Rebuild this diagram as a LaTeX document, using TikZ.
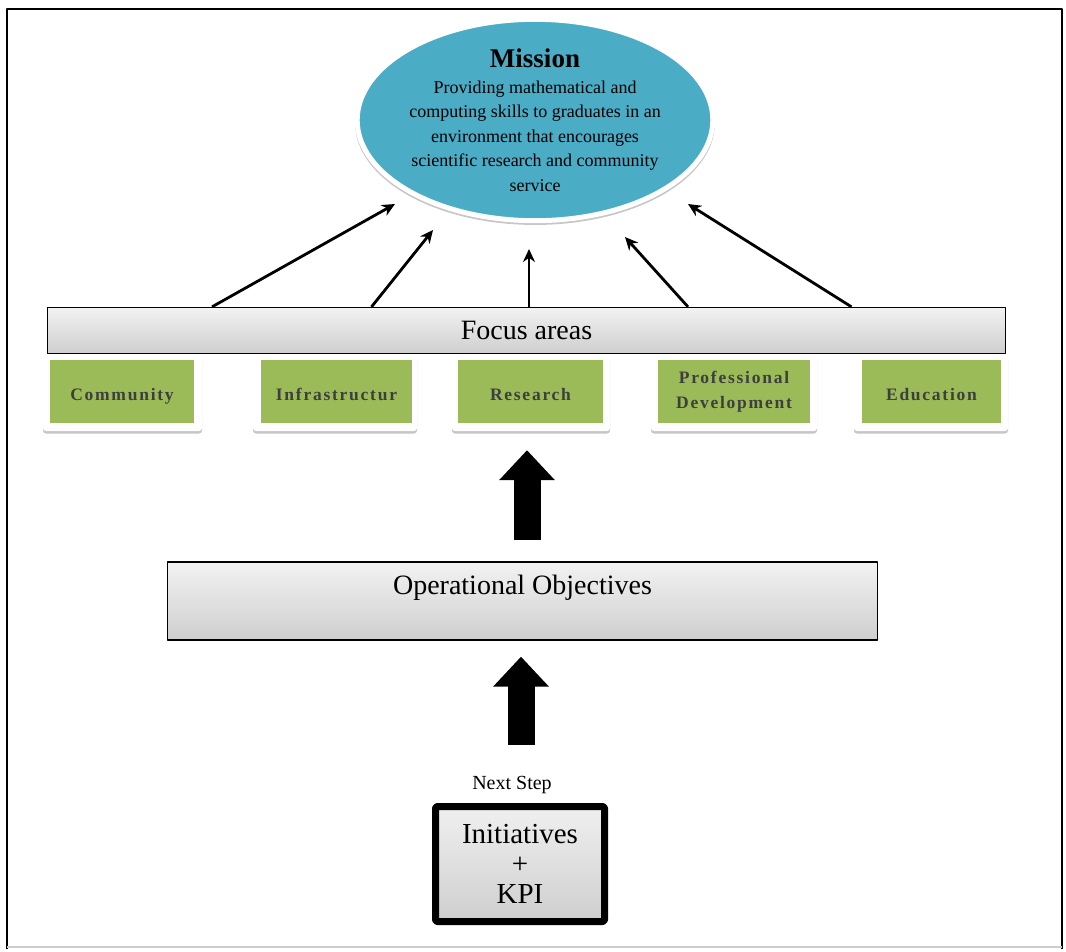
\documentclass[tikz,border=0pt]{standalone}
\usepackage{fontspec}
\setmainfont{Liberation Serif}
\usetikzlibrary{positioning,shapes.geometric,shadows,arrows.meta}
\definecolor{missionblue}{RGB}{75,172,198}
\definecolor{areagreen}{RGB}{155,187,89}
\definecolor{areatext}{RGB}{62,62,62}

\begin{document}
\begin{tikzpicture}[x=1pt,y=-1pt,line join=round,
  graybox/.style={draw=black,line width=1.3pt,top color=gray!10,bottom color=gray!38},
  areacard/.style={fill=white,rounded corners=3pt,minimum height=76pt,
    drop shadow={shadow xshift=0pt,shadow yshift=-2.5pt,opacity=.45}},
  areabox/.style={fill=areagreen,text=areatext,minimum height=63pt,inner sep=0pt,align=center,
    font=\fontsize{17.5}{25}\selectfont\bfseries\addfontfeature{LetterSpace=10}},
  oneline/.style={text height=17pt,text depth=0pt},
  spoke/.style={line width=2.8pt,-{Stealth[length=13pt,width=12pt]}},
  bigarrow/.style={line width=27pt,-{Triangle[length=30pt,width=54pt]}}]
  \useasboundingbox (0,0) rectangle (1066,951);
  % frame
  \draw[line width=1.8pt] (7,949) -- (7,9) -- (1062,9) -- (1062,949);
  \draw[gray!40,line width=1.5pt] (7,947) -- (1062,947);
  % mission
  \node[ellipse,fill=missionblue,draw=white,line width=5pt,minimum width=346pt,
    minimum height=186pt,inner sep=0pt,align=center,
    drop shadow={shadow xshift=0pt,shadow yshift=-3pt,shadow scale=1.012,opacity=.45},
    font=\fontsize{18}{24.5}\selectfont] (mission) at (535,120)
    {{\fontsize{27}{28}\selectfont\bfseries Mission}\\[1pt]
     Providing mathematical and\\computing skills to graduates in an\\
     environment that encourages\\scientific research and community\\service};
  % focus areas
  \node[areacard,minimum width=159pt] (commcard) at (122.5,393) {};
  \node[areabox,oneline,minimum width=144pt] (community) at (122,391.5) {Community};
  \node[areacard,minimum width=164pt] (infracard) at (335,393) {};
  \node[areabox,oneline,minimum width=151pt] (infra) at (336.5,391.5) {Infrastructur};
  \node[areacard,minimum width=158pt] (rescard) at (531,393) {};
  \node[areabox,oneline,minimum width=145pt] (research) at (530.5,391.5) {Research};
  \node[areacard,minimum width=166pt] (profcard) at (734,393) {};
  \node[areabox,minimum width=152pt] (prof) at (734,391.5) {Professional\\Development};
  \node[areacard,minimum width=154pt] (educard) at (931,393) {};
  \node[areabox,oneline,minimum width=139pt] (education) at (931.5,391.5) {Education};
  \node[graybox,minimum width=958pt,minimum height=46pt,
    font=\fontsize{28}{30}\selectfont] (focus) at (526.5,330.5) {Focus areas};
  % spokes up to the mission
  \coordinate (t1) at (395,204);
  \coordinate (t2) at (433,230);
  \coordinate (t3) at (529,249);
  \coordinate (t4) at (625,237);
  \coordinate (t5) at (688,204);
  \draw[spoke] ([xshift=-314.5pt]focus.north) -- (t1);
  \draw[spoke] ([xshift=-155pt]focus.north) -- (t2);
  \draw[spoke] ([xshift=2.5pt]focus.north) -- (t3);
  \draw[spoke] ([xshift=161.5pt]focus.north) -- (t4);
  \draw[spoke] ([xshift=325pt]focus.north) -- (t5);
  % objectives
  \node[graybox,minimum width=710pt,minimum height=78pt,text height=20pt,text depth=34pt,
    font=\fontsize{28}{30}\selectfont] (ops) at (522.5,601) {Operational Objectives};
  \draw[bigarrow,shorten <=21pt,shorten >=27pt] ([xshift=4.5pt]ops.north) -- ([xshift=-3.5pt]research.south);
  % initiatives
  \node[font=\fontsize{20}{22}\selectfont] (next) at (512,785) {Next Step};
  \node[draw=black,line width=7pt,rounded corners=2pt,top color=gray!12,bottom color=gray!38,
    minimum width=169pt,minimum height=115pt,align=center,
    font=\fontsize{29}{30}\selectfont] (init) at (520,864) {Initiatives\\+\\KPI};
  \draw[bigarrow,shorten <=58pt,shorten >=16pt] ([xshift=1pt]init.north) -- ([xshift=-1.5pt]ops.south);
\end{tikzpicture}
\end{document}
